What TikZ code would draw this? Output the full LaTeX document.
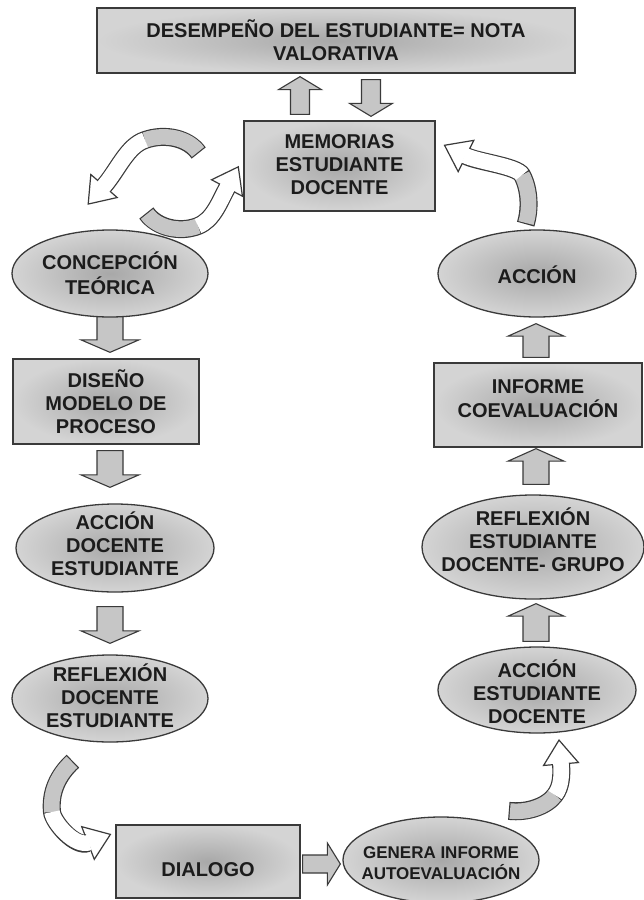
\documentclass[tikz,border=0pt]{standalone}
\usepackage{fontspec}
\setmainfont{Liberation Sans}
\usetikzlibrary{shapes.geometric,calc,backgrounds}
\definecolor{linecol}{HTML}{3A3A3A}
\definecolor{textcol}{HTML}{1C1C1C}
\definecolor{arrfill}{HTML}{C6C6C6}
\definecolor{shin}{HTML}{A8A8A8}
\definecolor{shout}{HTML}{D4D4D4}
\newcommand\zt[2][0pt]{\makebox[0pt]{\raisebox{\dimexpr(\depth-\height)/2-#1\relax}[0pt][0pt]{\begin{tabular}{@{}c@{}}#2\end{tabular}}}}
% straight block arrow: tail, tip, shaft half width, head half width, head length
\newcommand\barrow[5]{%
  \coordinate (bah) at ($(#2)!#5!(#1)$);
  \draw[barr] ($(#1)!#3!90:(#2)$) -- ($(bah)!#3!90:(#2)$) -- ($(bah)!#4!90:(#2)$) -- (#2)
    -- ($(bah)!#4!-90:(#2)$) -- ($(bah)!#3!-90:(#2)$) -- ($(#1)!#3!-90:(#2)$) -- cycle;}
% curved block arrow: S c1 c2 M c3 c4 B
\newcommand\carrow[7]{%
  \draw[chead] ($#7!-24pt!#6$) -- ($#7!17.5pt!90:#6$) -- ($#7!17.5pt!-90:#6$) -- cycle;
  \draw[cout, shorten <=-1.2pt] #1 .. controls #2 and #3 .. #4 .. controls #5 and #6 .. #7;
  \draw[cgray] #1 .. controls #2 and #3 .. #4;
  \draw[cwhite, shorten >=-1.5pt] #4 .. controls #5 and #6 .. #7;}
\begin{document}
\begin{tikzpicture}[x=1pt,y=-1pt,
  base/.style={draw=linecol, line width=1.3pt, inner sep=0pt, inner color=shin, outer color=shout,
    text=textcol, font=\fontsize{20}{23}\selectfont\bfseries},
  box/.style={base, rectangle},
  oval/.style={base, ellipse},
  barr/.style={draw=linecol, fill=arrfill, line width=1.1pt, line join=miter},
  cout/.style={draw=linecol, line width=18pt, line cap=butt},
  cgray/.style={draw=arrfill, line width=15.6pt, line cap=butt},
  cwhite/.style={draw=white, line width=15.6pt, line cap=butt},
  chead/.style={draw=linecol, fill=white, line width=1.2pt, line join=miter}]
\useasboundingbox (0,0) rectangle (643,900);

\node[box, minimum width=478pt, minimum height=65pt] (top) at (336,40.5)
  {\zt[3pt]{DESEMPEÑO DEL ESTUDIANTE= NOTA\\VALORATIVA}};
\node[box, minimum width=191pt, minimum height=90pt] (mem) at (339.5,166)
  {\zt[1pt]{MEMORIAS\\ESTUDIANTE\\DOCENTE}};
\node[oval, minimum width=196pt, minimum height=87pt] (conc) at (110,273.5)
  {\zt[3pt]{CONCEPCIÓN\\TEÓRICA}};
\node[oval, minimum width=198pt, minimum height=87pt] (acc) at (537,273.5)
  {\zt[5pt]{ACCIÓN}};
\node[box, minimum width=186pt, minimum height=85pt] (dis) at (106,401.5)
  {\zt[4pt]{DISEÑO\\MODELO DE\\PROCESO}};
\node[oval, minimum width=198pt, minimum height=88pt] (ad) at (115,548)
  {\zt[-1pt]{ACCIÓN\\DOCENTE\\ESTUDIANTE}};
\node[oval, minimum width=196pt, minimum height=87pt] (rd) at (110,698.5)
  {\zt[1pt]{REFLEXIÓN\\DOCENTE\\ESTUDIANTE}};
\node[box, minimum width=208pt, minimum height=84pt] (inf) at (538,405)
  {\zt[-4pt]{INFORME\\COEVALUACIÓN}};
\node[oval, minimum width=222pt, minimum height=104pt] (re) at (533,547)
  {\zt[-4pt]{REFLEXIÓN\\ESTUDIANTE\\DOCENTE- GRUPO}};
\node[oval, minimum width=198pt, minimum height=86pt] (ae) at (537,690)
  {\zt[5pt]{ACCIÓN\\ESTUDIANTE\\DOCENTE}};
\node[box, minimum width=184pt, minimum height=73pt] (dia) at (208,861.5)
  {\zt[10pt]{DIALOGO}};
\node[oval, minimum width=196pt, minimum height=86pt, font=\fontsize{17}{19.5}\selectfont\bfseries] (gen) at (441,860)
  {\zt[5pt]{GENERA INFORME\\AUTOEVALUACIÓN}};

\coordinate (u1t) at ($(mem.north)+(-39.5,-6)$);
\coordinate (u1h) at ($(top.south)+(-36,3)$);
\coordinate (d1t) at ($(top.south)+(35,6)$);
\coordinate (d1h) at ($(mem.north)+(31.5,-4)$);
\coordinate (l1t) at ($(conc.south)+(0,-4)$);
\coordinate (l1h) at ($(dis.north)+(4,-6)$);
\coordinate (l2t) at ($(dis.south)+(4,6)$);
\coordinate (l2h) at ($(ad.north)+(-5,-16)$);
\coordinate (l3t) at ($(ad.south)+(-5,14)$);
\coordinate (l3h) at ($(rd.north)+(0,-11)$);
\coordinate (r1t) at ($(inf.north)+(-2,-5)$);
\coordinate (r1h) at ($(acc.south)+(-1,6)$);
\coordinate (r2t) at ($(re.north)+(3,-10)$);
\coordinate (r2h) at ($(inf.south)+(-2,1)$);
\coordinate (r3t) at ($(ae.north)+(-1,-5)$);
\coordinate (r3h) at ($(re.south)+(3,4)$);
\coordinate (bt) at ($(dia.east)+(2,2.5)$);
\coordinate (bhd) at ($(gen.west)+(-2,4)$);

\begin{pgfonlayer}{background}
  \fill[white] (0,0) rectangle (643,900);
  \barrow{u1t}{u1h}{9.5pt}{21.5pt}{13pt}
  \barrow{d1t}{d1h}{9.5pt}{21.5pt}{13pt}
  \barrow{l1t}{l1h}{13pt}{29pt}{12.5pt}
  \barrow{l2t}{l2h}{13pt}{29pt}{12.5pt}
  \barrow{l3t}{l3h}{13pt}{29pt}{12.5pt}
  \barrow{r1t}{r1h}{13pt}{28pt}{12.5pt}
  \barrow{r2t}{r2h}{13pt}{28pt}{12.5pt}
  \barrow{r3t}{r3h}{13pt}{28pt}{12.5pt}
  \barrow{bt}{bhd}{9pt}{21pt}{13pt}
\end{pgfonlayer}

\carrow{(198,152)}{(188,138)}{(165,133)}{(145,140)}{(127,146)}{(118,170)}{(104,186)}
\carrow{(147,214)}{(157,228)}{(180,233)}{(198,226)}{(213,220)}{(219,203)}{(227,188)}
\carrow{(526,223)}{(530,210)}{(530,190)}{(522,175)}{(517,166)}{(478,162)}{(466,156)}
\carrow{(72,762)}{(58,775)}{(50,792)}{(52,812)}{(53,822)}{(75,848)}{(88,843)}
\carrow{(510,811)}{(528,813)}{(547,806)}{(555,795)}{(561,787)}{(562,776)}{(561,764)}
\end{tikzpicture}
\end{document}
